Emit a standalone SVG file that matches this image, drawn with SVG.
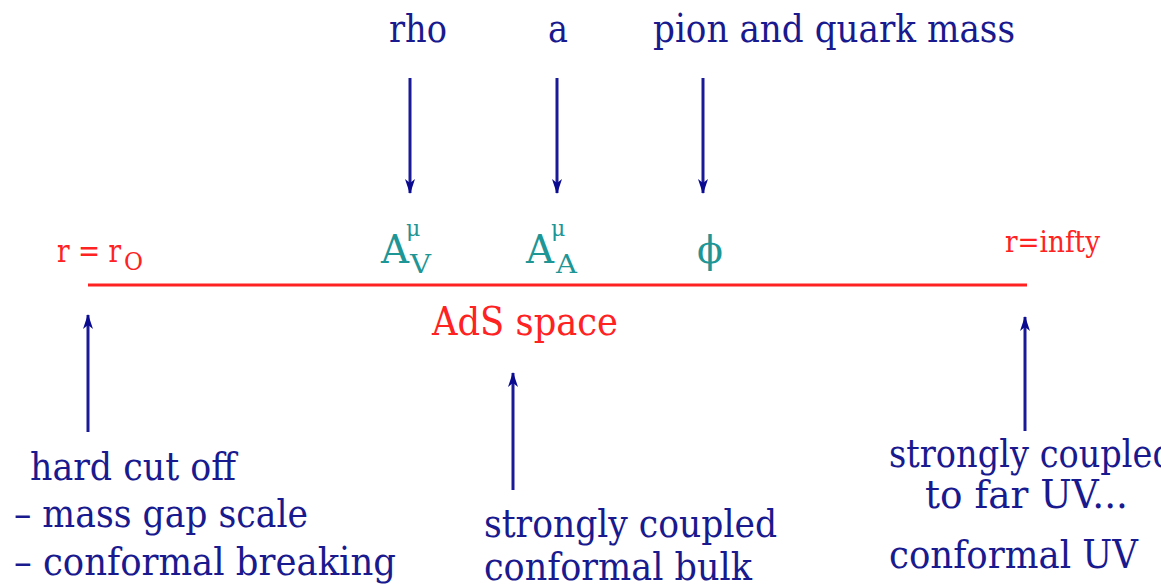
<svg xmlns="http://www.w3.org/2000/svg" width="1161" height="586" viewBox="0 0 1161 586">
<defs>
<style>
text{font-family:'DejaVu Serif','Liberation Serif',serif}
.lbl{fill:#1a1a8f;font-size:40px}
.red{fill:#ff2222}
.teal{fill:#1f9696}
.arr{stroke:#1a1a99;stroke-width:3;fill:none}
</style>
<marker id="ah" viewBox="0 0 15 12" refX="14" refY="6" markerWidth="15" markerHeight="12" markerUnits="userSpaceOnUse" orient="auto">
<path d="M0,1 L15,6 L0,11 L4,6 Z" fill="#0a0a90"/>
</marker>
</defs>
<rect width="1161" height="586" fill="#ffffff"/>

<g id="connectors">
<line class="arr" x1="410" y1="78" x2="410" y2="193" marker-end="url(#ah)"/>
<line class="arr" x1="557" y1="78" x2="557" y2="193" marker-end="url(#ah)"/>
<line class="arr" x1="703" y1="78" x2="703" y2="193" marker-end="url(#ah)"/>
<line class="arr" x1="88" y1="432" x2="88" y2="315" marker-end="url(#ah)"/>
<line class="arr" x1="513" y1="490" x2="513" y2="373" marker-end="url(#ah)"/>
<line class="arr" x1="1025" y1="431" x2="1025" y2="317" marker-end="url(#ah)"/>
</g>

<g id="ads-line">
<line x1="88" y1="285" x2="1027" y2="285" stroke="#ff2222" stroke-width="3"/>
<text class="red" x="432" y="335" font-size="40" textLength="186" lengthAdjust="spacingAndGlyphs">AdS space</text>
</g>

<g id="rho"><text class="lbl" x="389" y="42" textLength="58" lengthAdjust="spacingAndGlyphs">rho</text></g>
<g id="a"><text class="lbl" x="548" y="42" textLength="20" lengthAdjust="spacingAndGlyphs">a</text></g>
<g id="pion"><text class="lbl" x="653" y="42" textLength="362" lengthAdjust="spacingAndGlyphs">pion and quark mass</text></g>

<g id="AV">
<text class="teal" x="381" y="263" font-size="40" textLength="28" lengthAdjust="spacingAndGlyphs">A</text>
<text class="teal" x="406" y="236" font-size="22">μ</text>
<text class="teal" x="410" y="273" font-size="26" textLength="21" lengthAdjust="spacingAndGlyphs">V</text>
</g>
<g id="AA">
<text class="teal" x="526" y="263" font-size="40" textLength="28" lengthAdjust="spacingAndGlyphs">A</text>
<text class="teal" x="551" y="236" font-size="22">μ</text>
<text class="teal" x="556" y="273" font-size="26" textLength="21" lengthAdjust="spacingAndGlyphs">A</text>
</g>
<g id="phi">
<text class="teal" x="697" y="263" font-size="38">ϕ</text>
</g>

<g id="r0">
<text class="red" x="57" y="262" font-size="32" textLength="64" lengthAdjust="spacingAndGlyphs">r = r</text>
<text class="red" x="124" y="270" font-size="24" textLength="19" lengthAdjust="spacingAndGlyphs">O</text>
</g>
<g id="rinf">
<text class="red" x="1005" y="252" font-size="30" textLength="95" lengthAdjust="spacingAndGlyphs">r=infty</text>
</g>

<g id="cutoff">
<text class="lbl" x="30" y="480" textLength="206" lengthAdjust="spacingAndGlyphs">hard cut off</text>
<text class="lbl" x="14" y="527" textLength="294" lengthAdjust="spacingAndGlyphs">– mass gap scale</text>
<text class="lbl" x="14" y="575" textLength="382" lengthAdjust="spacingAndGlyphs">– conformal breaking</text>
</g>
<g id="bulk">
<text class="lbl" x="484" y="537" textLength="293" lengthAdjust="spacingAndGlyphs">strongly coupled</text>
<text class="lbl" x="484" y="580" textLength="268" lengthAdjust="spacingAndGlyphs">conformal bulk</text>
</g>
<g id="uv">
<text class="lbl" x="889" y="467" textLength="285" lengthAdjust="spacingAndGlyphs">strongly coupled</text>
<text class="lbl" x="925" y="508" textLength="203" lengthAdjust="spacingAndGlyphs">to far UV...</text>
<text class="lbl" x="889" y="568" textLength="249" lengthAdjust="spacingAndGlyphs">conformal UV</text>
</g>
</svg>
